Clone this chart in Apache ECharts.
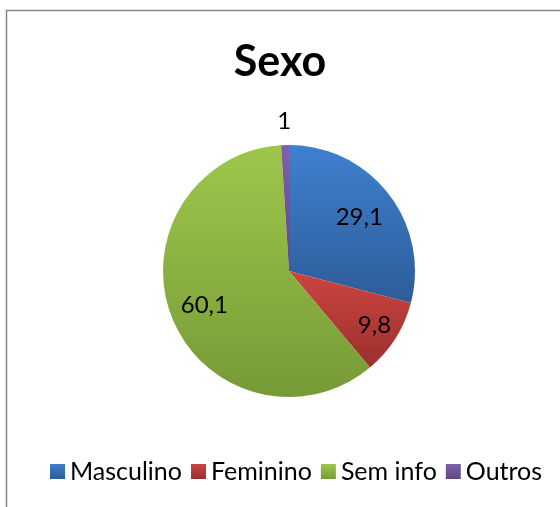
<!DOCTYPE html>
<html>
<head>
<meta charset="utf-8">
<script src="https://cdn.jsdelivr.net/npm/echarts@6/dist/echarts.min.js"></script>
<style>
  html, body { margin: 0; padding: 0; background: #fff; }
  #chart { width: 560px; height: 507px; }
</style>
</head>
<body>
<div id="chart"></div>
<script>
const categories = ['Masculino', 'Feminino', 'Sem info', 'Outros']
const values = [29.1, 9.8, 60.1, 1]
const labels = ['29,1', '9,8', '60,1', '1']

// cores no estilo Excel: claro em cima, escuro embaixo
const colors = [
  ['#3f80d0', '#2d5c98'],
  ['#cc4542', '#9b2f2c'],
  ['#9dc74b', '#779a37'],
  ['#8060aa', '#5f4682']
]

const grad = (c) => new echarts.graphic.LinearGradient(0, 0, 0, 1, [
  { offset: 0, color: c[0] },
  { offset: 1, color: c[1] }
])

const chart = echarts.init(document.getElementById('chart'))
const font = 'Lato, "Open Sans", sans-serif'
const center = [289, 271]
const R = 126
const labelStyle = { fontFamily: font, fontSize: 24, color: '#000' }

// anel invisível só para rótulos; showIdx = quais fatias mostram rótulo
const labelRing = (r0, r1, showIdx) => ({
  type: 'pie',
  center: center,
  radius: [r0, r1],
  startAngle: 90,
  clockwise: true,
  silent: true,
  legendHoverLink: false,
  itemStyle: { color: 'rgba(0,0,0,0)' },
  labelLine: { show: false },
  label: Object.assign({ show: true, position: 'inside' }, labelStyle),
  data: categories.map((name, i) => ({
    name, value: values[i],
    label: { show: showIdx.includes(i), formatter: labels[i] }
  }))
})

chart.setOption({
  animation: false,
  title: {
    text: 'Sexo',
    left: 'center',
    top: 36,
    textStyle: { fontFamily: font, fontSize: 43, fontWeight: 'bold', color: '#000' }
  },
  legend: {
    bottom: 18,
    left: 45,
    icon: 'rect',
    itemWidth: 15,
    itemHeight: 15,
    itemGap: 9,
    textStyle: { fontFamily: font, fontSize: 25, color: '#000', padding: [0, 0, 0, 0] },
    data: categories
  },
  graphic: [{
    type: 'rect',
    silent: true,
    shape: { x: 6.5, y: 10.5, width: 700, height: 700 },
    style: { fill: 'none', stroke: '#868686', lineWidth: 1.5 }
  }],
  series: [
    {
      type: 'pie',
      center: center,
      radius: [0, R],
      startAngle: 90,
      clockwise: true,
      label: { show: false },
      labelLine: { show: false },
      data: categories.map((name, i) => ({
        name, value: values[i],
        itemStyle: { color: grad(colors[i]) }
      }))
    },
    labelRing(R * 0.36, R, [0]),
    labelRing(R * 0.56, R, [1]),
    labelRing(R * 0.4, R, [2]),
    labelRing(R, R * 1.33, [3])
  ]
})
</script>
</body>
</html>
